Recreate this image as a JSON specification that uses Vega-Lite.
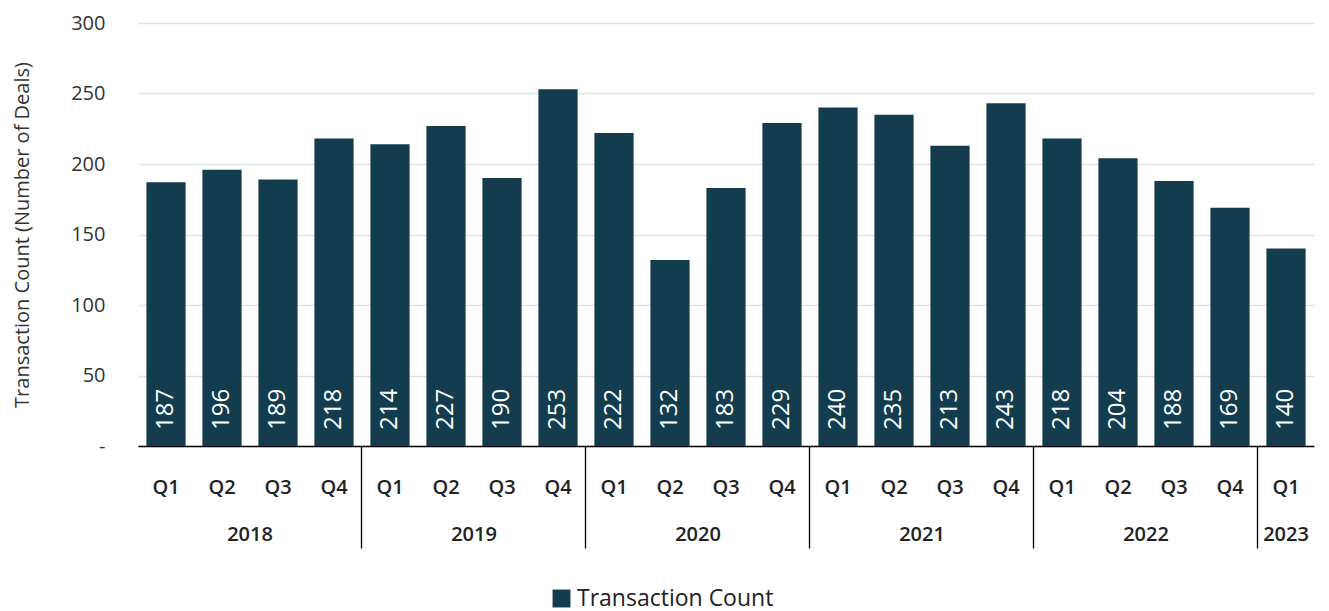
{
  "$schema": "https://vega.github.io/schema/vega-lite/v6.json",
  "width": 1176,
  "height": 423,
  "autosize": {"type": "none"},
  "padding": {"left": 138, "top": 23, "right": 15, "bottom": 165},
  "config": {"font": "Open Sans", "view": {"stroke": null}},
  "data": {
    "values": [
      {"period": "2018 Q1", "count": 187, "series": "Transaction Count"},
      {"period": "2018 Q2", "count": 196, "series": "Transaction Count"},
      {"period": "2018 Q3", "count": 189, "series": "Transaction Count"},
      {"period": "2018 Q4", "count": 218, "series": "Transaction Count"},
      {"period": "2019 Q1", "count": 214, "series": "Transaction Count"},
      {"period": "2019 Q2", "count": 227, "series": "Transaction Count"},
      {"period": "2019 Q3", "count": 190, "series": "Transaction Count"},
      {"period": "2019 Q4", "count": 253, "series": "Transaction Count"},
      {"period": "2020 Q1", "count": 222, "series": "Transaction Count"},
      {"period": "2020 Q2", "count": 132, "series": "Transaction Count"},
      {"period": "2020 Q3", "count": 183, "series": "Transaction Count"},
      {"period": "2020 Q4", "count": 229, "series": "Transaction Count"},
      {"period": "2021 Q1", "count": 240, "series": "Transaction Count"},
      {"period": "2021 Q2", "count": 235, "series": "Transaction Count"},
      {"period": "2021 Q3", "count": 213, "series": "Transaction Count"},
      {"period": "2021 Q4", "count": 243, "series": "Transaction Count"},
      {"period": "2022 Q1", "count": 218, "series": "Transaction Count"},
      {"period": "2022 Q2", "count": 204, "series": "Transaction Count"},
      {"period": "2022 Q3", "count": 188, "series": "Transaction Count"},
      {"period": "2022 Q4", "count": 169, "series": "Transaction Count"},
      {"period": "2023 Q1", "count": 140, "series": "Transaction Count"}
    ]
  },
  "layer": [
    {
      "mark": {"type": "bar"},
      "encoding": {
        "x": {
          "field": "period", "type": "nominal", "sort": null,
          "scale": {"paddingInner": 0.3, "paddingOuter": 0.15},
          "axis": {
            "orient": "bottom", "title": null,
            "labelExpr": "datum.value == '2023 Q1' ? ['Q1', '2023'] : slice(datum.value, 5)",
            "labelLineHeight": 47,
            "ticks": false, "domain": true, "domainColor": "#000000", "domainWidth": 1.3,
            "labelAngle": 0, "labelPadding": 31, "labelFontSize": 20, "labelFontWeight": 600,
            "labelColor": "#222222", "grid": false
          }
        },
        "y": {
          "field": "count", "type": "quantitative",
          "scale": {"domain": [0, 300]},
          "axis": {
            "values": [0, 50, 100, 150, 200, 250, 300],
            "labelExpr": "datum.value == 0 ? '-' : datum.label",
            "domain": false, "ticks": false, "grid": true, "gridColor": "#dde3e3", "gridWidth": 1.5,
            "labelFontSize": 20, "labelColor": "#333333", "labelPadding": 33,
            "title": "Transaction Count (Number of Deals)", "titleFontSize": 20,
            "titleFontWeight": "normal", "titleColor": "#333333", "titlePadding": 38
          }
        },
        "color": {
          "field": "series", "type": "nominal",
          "scale": {"range": ["#133c4e"]},
          "legend": {
            "title": null, "orient": "none", "legendX": 412, "legendY": 564,
            "direction": "horizontal", "symbolType": "square", "symbolSize": 320,
            "labelFontSize": 23, "labelColor": "#222222", "labelLimit": 0
          }
        }
      }
    },
    {
      "mark": {"type": "text", "angle": -90, "align": "left", "baseline": "middle", "dx": 16, "color": "#ffffff", "fontSize": 24},
      "encoding": {
        "x": {
          "field": "period", "type": "nominal", "sort": null,
          "axis": {
            "orient": "bottom", "title": null,
            "values": ["2019 Q1", "2020 Q1", "2021 Q1", "2022 Q1", "2023 Q1"],
            "bandPosition": -0.2143,
            "tickSize": 102, "tickColor": "#000000", "tickWidth": 1.3,
            "labelExpr": "'' + (toNumber(slice(datum.value, 0, 4)) - 1)",
            "labelOffset": -140,
            "labelAngle": 0, "labelPadding": -24, "labelFontSize": 20, "labelFontWeight": 600,
            "labelColor": "#222222", "domain": false, "grid": false
          }
        },
        "y": {"datum": 0, "type": "quantitative"},
        "text": {"field": "count", "type": "quantitative"}
      }
    }
  ],
  "resolve": {"axis": {"x": "independent"}}
}
